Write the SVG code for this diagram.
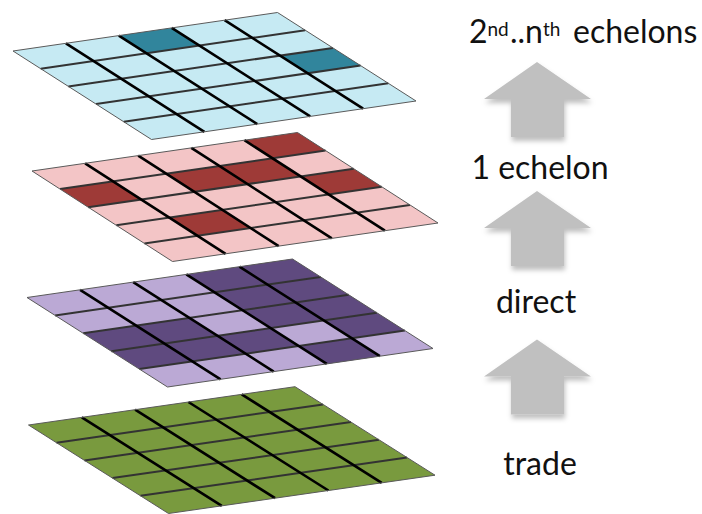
<svg xmlns="http://www.w3.org/2000/svg" width="702" height="514" viewBox="0 0 702 514">
  <defs>
    <style>
      .border { fill: none; stroke: #5a5a5a; stroke-width: 1; vector-effect: non-scaling-stroke; }
      .row { stroke: #333; stroke-width: 2; vector-effect: non-scaling-stroke; }
      .col { stroke: #000; stroke-width: 2.6; vector-effect: non-scaling-stroke; }
      .lbl { font-family: Lato, "Liberation Sans", sans-serif; font-size: 32px; fill: #111; }
      .sup { font-size: 19px; }
      .arrow { fill: #c0c0c0; filter: url(#shadow); }
    </style>
    <filter id="shadow" x="-30%" y="-30%" width="160%" height="160%">
      <feDropShadow dx="1" dy="4" stdDeviation="2.5" flood-color="#000" flood-opacity="0.25"/>
    </filter>
    <g id="lines">
      <path class="row" d="M0,1H5M0,2H5M0,3H5M0,4H5"/>
      <path class="col" d="M1,0V5M2,0V5M3,0V5M4,0V5"/>
      <rect class="border" x="0" y="0" width="5" height="5"/>
    </g>
    <path id="arr" d="M537,62 L591,99 L564,99 L564,137 L511,137 L511,99 L484,99 Z"/>
  </defs>

  <g id="layer-echelons" transform="matrix(52.9,-7.7,27.7,17.7,13,51)">
    <rect x="0" y="0" width="5" height="5" fill="#c6eaf3"/>
    <g fill="#31859c">
      <rect x="2" y="0" width="1" height="1"/>
      <rect x="4" y="2" width="1" height="1"/>
    </g>
    <use href="#lines"/>
  </g>

  <g id="layer-1-echelon" transform="matrix(53.1,-7.7,28.1,18.1,32,171)">
    <rect x="0" y="0" width="5" height="5" fill="#f3c5c6"/>
    <g fill="#9e3a37">
      <rect x="4" y="0" width="1" height="1"/>
      <rect x="0" y="1" width="1" height="1"/>
      <rect x="2" y="1" width="2" height="1"/>
      <rect x="4" y="2" width="1" height="1"/>
      <rect x="1" y="3" width="1" height="1"/>
    </g>
    <use href="#lines"/>
  </g>

  <g id="layer-direct" transform="matrix(53.1,-7.7,28.1,17.9,27,297.5)">
    <rect x="0" y="0" width="5" height="5" fill="#bba9d5"/>
    <g fill="#5f4a7f">
      <rect x="3" y="0" width="2" height="2"/>
      <rect x="0" y="2" width="2" height="2"/>
      <rect x="3" y="2" width="2" height="1"/>
      <rect x="2" y="3" width="1" height="1"/>
      <rect x="4" y="3" width="1" height="1"/>
      <rect x="3" y="4" width="1" height="1"/>
    </g>
    <use href="#lines"/>
  </g>

  <g id="layer-trade" transform="matrix(53.3,-7.66,28,17.7,28.5,425)">
    <rect x="0" y="0" width="5" height="5" fill="#799a3e"/>
    <use href="#lines"/>
  </g>

  <g id="connectors">
    <use href="#arr" class="arrow"/>
    <use href="#arr" class="arrow" transform="translate(0,129)"/>
    <use href="#arr" class="arrow" transform="translate(0,277.5)"/>
  </g>

  <g id="label-echelons">
    <text class="lbl" y="43.3"><tspan x="469">2</tspan><tspan class="sup" x="487.5" y="36">nd</tspan><tspan x="510" y="43.3">..n</tspan><tspan class="sup" x="543" y="36">th</tspan><tspan x="573" y="43.3">echelons</tspan></text>
  </g>
  <g id="label-1-echelon">
    <text class="lbl" x="540" y="179" text-anchor="middle">1 echelon</text>
  </g>
  <g id="label-direct">
    <text class="lbl" x="536" y="313" text-anchor="middle">direct</text>
  </g>
  <g id="label-trade">
    <text class="lbl" x="540" y="475" text-anchor="middle">trade</text>
  </g>
</svg>
